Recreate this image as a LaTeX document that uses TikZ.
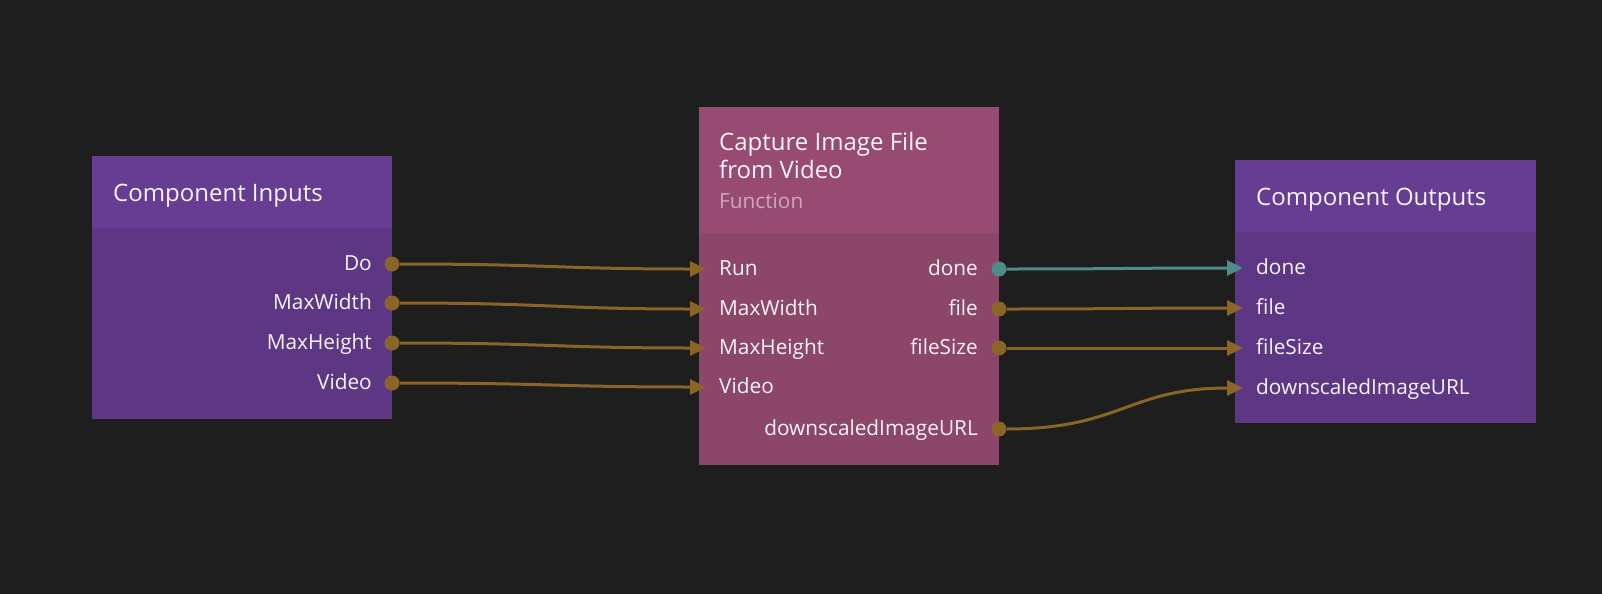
\documentclass[tikz,border=0pt]{standalone}
\usepackage{fontspec}
\setmainfont{Open Sans}
\usetikzlibrary{arrows.meta}
\definecolor{bg}{HTML}{1E1E1E}
\definecolor{compHead}{HTML}{673D93}
\definecolor{compBody}{HTML}{5E3784}
\definecolor{funcHead}{HTML}{974A72}
\definecolor{funcBody}{HTML}{8B466A}
\definecolor{funcSub}{HTML}{CFA5BC}
\definecolor{gold}{HTML}{8B6427}
\definecolor{teal}{HTML}{4F8B8B}
\definecolor{txt}{HTML}{F4F4F4}
\tikzset{
  boxbody/.style={draw=none, inner sep=0pt, outer sep=0pt},
  hdr/.style={font=\fontsize{24}{29}\selectfont, text=txt, inner sep=0pt, anchor=base west},
  sub/.style={font=\fontsize{20.8}{25}\selectfont, text=funcSub, inner sep=0pt, anchor=base west},
  portl/.style={font=\fontsize{20.8}{25}\selectfont, text=txt, inner sep=0pt, anchor=base west},
  portr/.style={font=\fontsize{20.8}{25}\selectfont, text=txt, inner sep=0pt, anchor=base east},
  dotg/.style={circle, fill=gold, inner sep=0pt, minimum size=15pt},
  dott/.style={circle, fill=teal, inner sep=0pt, minimum size=15pt},
  wire/.style={draw=gold, line width=3pt, -{Triangle[length=16pt,width=15pt]}},
  wiret/.style={draw=teal, line width=3pt, -{Triangle[length=16pt,width=15pt]}},
}
\begin{document}
\begin{tikzpicture}[x=1pt,y=-1pt]
\fill[bg] (0,0) rectangle (1602,594);
\useasboundingbox (0,0) rectangle (1602,594);

% Left box: Component Inputs
\fill[compBody] (92,156) rectangle (392,419);
\fill[compHead] (92,156) rectangle (392,228);
\node[boxbody] (inbox) at (242,287.5) {};
\node[hdr] (inhdr) at (113,201) {Component Inputs};
\node[portr] (lDo) at (372,270) {Do};
\node[portr] (lMW) at (372,309) {MaxWidth};
\node[portr] (lMH) at (372,349) {MaxHeight};
\node[portr] (lV) at (372,389) {Video};
\node[dotg] (oDo) at (392,264) {};
\node[dotg] (oMW) at (392,303) {};
\node[dotg] (oMH) at (392,343) {};
\node[dotg] (oV) at (392,383) {};

% Middle box: function
\fill[funcBody] (699,107) rectangle (999,465);
\fill[funcHead] (699,107) rectangle (999,233);
\node[boxbody] (fnbox) at (849,286) {};
\node[hdr] (fnh1) at (719,150) {Capture Image File};
\node[hdr] (fnh2) at (719,178) {from Video};
\node[sub] (fnsub) at (719,208) {Function};
\node[portl] (mRun) at (719,275) {Run};
\node[portl] (mMW) at (719,315) {MaxWidth};
\node[portl] (mMH) at (719,354) {MaxHeight};
\node[portl] (mV) at (719,393) {Video};
\node[portr] (mdone) at (978,275) {done};
\node[portr] (mfile) at (978,315) {file};
\node[portr] (mfs) at (978,354) {fileSize};
\node[portr] (mdu) at (978,435) {downscaledImageURL};
\coordinate (iRun) at (706,269);
\coordinate (iMW) at (706,309);
\coordinate (iMH) at (706,348);
\coordinate (iV) at (706,387);
\node[dott] (odone) at (999,269) {};
\node[dotg] (ofile) at (999,309) {};
\node[dotg] (ofs) at (999,348) {};
\node[dotg] (odu) at (999,429) {};

% Right box: Component Outputs
\fill[compBody] (1235,160) rectangle (1536,423);
\fill[compHead] (1235,160) rectangle (1536,232);
\node[boxbody] (outbox) at (1385,291) {};
\node[hdr] (outhdr) at (1256,205) {Component Outputs};
\node[portl] (rdone) at (1256,274) {done};
\node[portl] (rfile) at (1256,314) {file};
\node[portl] (rfs) at (1256,354) {fileSize};
\node[portl] (rdu) at (1256,394) {downscaledImageURL};
\coordinate (jdone) at (1243,268);
\coordinate (jfile) at (1243,308);
\coordinate (jfs) at (1243,348);
\coordinate (jdu) at (1243,388);

% Wires left -> middle
\draw[wire] (oDo.east) .. controls +(150,0) and +(-150,0) .. (iRun);
\draw[wire] (oMW.east) .. controls +(150,0) and +(-150,0) .. (iMW);
\draw[wire] (oMH.east) .. controls +(150,0) and +(-150,0) .. (iMH);
\draw[wire] (oV.east) .. controls +(150,0) and +(-150,0) .. (iV);

% Wires middle -> right
\draw[wiret] (odone.east) .. controls +(120,0) and +(-120,0) .. (jdone);
\draw[wire] (ofile.east) .. controls +(120,0) and +(-120,0) .. (jfile);
\draw[wire] (ofs.east) .. controls +(120,0) and +(-120,0) .. (jfs);
\draw[wire] (odu.east) .. controls +(115,0) and +(-115,0) .. (jdu);
\end{tikzpicture}
\end{document}
